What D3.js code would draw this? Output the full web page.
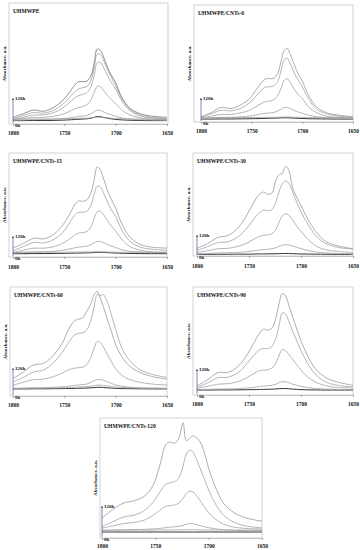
<!DOCTYPE html>
<html>
<head>
<meta charset="utf-8">
<script src="https://cdn.jsdelivr.net/npm/d3@7"></script>
<style>
  body { margin: 0; background: #fff; }
  svg { display: block; }
  text { font-family: "Liberation Serif", "DejaVu Serif", serif; font-weight: bold; fill: #111; }
</style>
</head>
<body>
<div id="chart"></div>
<script>
// wavenumber grid (cm-1) shared by all spectra
var wavenumbers = [1800, 1790, 1780, 1770, 1760, 1752, 1746, 1740, 1736, 1732, 1728, 1724,
                   1721, 1718, 1715, 1712, 1708, 1704, 1700, 1694, 1686, 1676, 1665, 1650];
var tickValues = [1800, 1750, 1700, 1650];
var sampleNames = ["UHMWPE", "UHMWPE/CNTs-0", "UHMWPE/CNTs-15", "UHMWPE/CNTs-30",
                   "UHMWPE/CNTs-60", "UHMWPE/CNTs-90", "UHMWPE/CNTs-120"];

// absorbance (a.u.), first series = 0h, last = 120h
var specUHMWPE = [
  [0.028,0.028,0.029,0.029,0.03,0.032,0.034,0.037,0.039,0.041,0.043,0.048,0.055,0.062,0.06,0.055,0.048,0.042,0.038,0.034,0.031,0.029,0.028,0.028],
  [0.04,0.04,0.041,0.041,0.042,0.043,0.044,0.045,0.046,0.047,0.048,0.05,0.053,0.056,0.055,0.053,0.05,0.048,0.046,0.044,0.042,0.041,0.04,0.04],
  [0.03,0.033,0.036,0.037,0.04,0.045,0.05,0.057,0.06,0.065,0.07,0.085,0.10,0.115,0.112,0.10,0.085,0.075,0.065,0.05,0.04,0.035,0.033,0.03],
  [0.035,0.045,0.055,0.055,0.065,0.08,0.10,0.125,0.135,0.145,0.16,0.20,0.26,0.31,0.31,0.28,0.235,0.20,0.17,0.115,0.075,0.05,0.04,0.035],
  [0.04,0.055,0.075,0.075,0.095,0.13,0.17,0.215,0.235,0.245,0.26,0.31,0.40,0.505,0.51,0.47,0.40,0.34,0.29,0.19,0.11,0.065,0.05,0.04],
  [0.045,0.07,0.095,0.09,0.115,0.16,0.21,0.265,0.29,0.30,0.31,0.36,0.46,0.575,0.575,0.53,0.45,0.38,0.32,0.21,0.12,0.075,0.055,0.045],
  [0.055,0.085,0.115,0.105,0.14,0.19,0.25,0.32,0.35,0.35,0.355,0.40,0.50,0.62,0.61,0.56,0.47,0.40,0.34,0.22,0.13,0.085,0.065,0.055]
];
var specCNT0 = [
  [0.025,0.025,0.026,0.026,0.027,0.028,0.029,0.03,0.031,0.032,0.033,0.034,0.035,0.036,0.036,0.035,0.033,0.031,0.03,0.028,0.027,0.026,0.025,0.025],
  [0.037,0.037,0.037,0.038,0.038,0.038,0.039,0.039,0.04,0.04,0.04,0.041,0.042,0.043,0.043,0.042,0.041,0.04,0.039,0.038,0.038,0.037,0.037,0.037],
  [0.03,0.035,0.04,0.04,0.045,0.05,0.06,0.07,0.075,0.078,0.082,0.095,0.11,0.122,0.125,0.115,0.098,0.085,0.075,0.058,0.045,0.038,0.034,0.03],
  [0.035,0.05,0.065,0.065,0.08,0.10,0.13,0.16,0.175,0.18,0.19,0.23,0.29,0.355,0.37,0.34,0.28,0.235,0.20,0.13,0.08,0.05,0.04,0.035],
  [0.04,0.07,0.10,0.095,0.12,0.165,0.22,0.275,0.30,0.30,0.31,0.35,0.44,0.53,0.545,0.50,0.42,0.355,0.30,0.20,0.11,0.07,0.05,0.04],
  [0.045,0.08,0.125,0.115,0.15,0.20,0.27,0.34,0.37,0.37,0.375,0.42,0.52,0.61,0.63,0.58,0.49,0.41,0.35,0.23,0.13,0.08,0.06,0.045]
];
var specCNT15 = [
  [0.032,0.032,0.033,0.033,0.034,0.035,0.036,0.037,0.038,0.039,0.04,0.041,0.043,0.045,0.045,0.044,0.042,0.04,0.038,0.036,0.034,0.033,0.032,0.032],
  [0.045,0.045,0.045,0.046,0.046,0.046,0.047,0.047,0.047,0.048,0.048,0.048,0.049,0.05,0.05,0.049,0.048,0.047,0.047,0.046,0.046,0.045,0.045,0.045],
  [0.04,0.045,0.05,0.05,0.055,0.065,0.075,0.088,0.095,0.10,0.105,0.12,0.138,0.15,0.148,0.138,0.12,0.105,0.09,0.07,0.055,0.048,0.045,0.042],
  [0.045,0.065,0.085,0.085,0.10,0.13,0.165,0.21,0.23,0.235,0.245,0.29,0.37,0.435,0.44,0.41,0.35,0.295,0.25,0.17,0.10,0.065,0.05,0.045],
  [0.06,0.10,0.14,0.135,0.17,0.23,0.31,0.40,0.43,0.43,0.44,0.50,0.60,0.68,0.675,0.62,0.53,0.45,0.39,0.26,0.15,0.095,0.075,0.065],
  [0.087,0.13,0.18,0.175,0.22,0.30,0.39,0.50,0.54,0.535,0.55,0.62,0.74,0.865,0.84,0.76,0.64,0.55,0.47,0.32,0.19,0.12,0.095,0.085]
];
var specCNT30 = [
  [0.016,0.016,0.017,0.017,0.018,0.018,0.019,0.02,0.02,0.021,0.021,0.022,0.023,0.024,0.025,0.024,0.023,0.021,0.02,0.019,0.018,0.017,0.016,0.016],
  [0.02,0.025,0.03,0.032,0.036,0.042,0.05,0.058,0.062,0.065,0.07,0.08,0.095,0.105,0.11,0.108,0.097,0.085,0.072,0.055,0.04,0.03,0.025,0.022],
  [0.035,0.05,0.07,0.075,0.095,0.125,0.16,0.19,0.20,0.205,0.215,0.26,0.33,0.39,0.41,0.40,0.35,0.29,0.24,0.17,0.10,0.06,0.045,0.035],
  [0.055,0.09,0.13,0.14,0.19,0.27,0.35,0.42,0.445,0.44,0.45,0.53,0.63,0.70,0.73,0.71,0.62,0.52,0.43,0.32,0.20,0.12,0.085,0.065],
  [0.074,0.12,0.18,0.20,0.28,0.40,0.51,0.60,0.62,0.60,0.61,0.74,0.79,0.80,0.87,0.84,0.66,0.57,0.49,0.37,0.24,0.14,0.10,0.07]
];
var specCNT60 = [
  [0.065,0.065,0.066,0.066,0.067,0.068,0.069,0.07,0.071,0.072,0.073,0.075,0.077,0.08,0.08,0.078,0.075,0.072,0.07,0.068,0.067,0.066,0.065,0.065],
  [0.07,0.071,0.072,0.072,0.073,0.075,0.077,0.08,0.082,0.084,0.086,0.09,0.095,0.10,0.10,0.097,0.092,0.087,0.082,0.078,0.075,0.073,0.072,0.07],
  [0.07,0.072,0.075,0.076,0.08,0.085,0.09,0.097,0.10,0.105,0.11,0.125,0.14,0.15,0.15,0.145,0.13,0.115,0.10,0.09,0.08,0.075,0.072,0.07],
  [0.10,0.125,0.15,0.155,0.18,0.21,0.24,0.255,0.26,0.265,0.29,0.36,0.44,0.50,0.49,0.45,0.38,0.31,0.25,0.19,0.15,0.125,0.11,0.10],
  [0.13,0.17,0.22,0.24,0.31,0.40,0.49,0.56,0.575,0.58,0.61,0.70,0.82,0.93,0.92,0.93,0.86,0.74,0.61,0.44,0.32,0.24,0.20,0.17],
  [0.16,0.22,0.285,0.30,0.38,0.485,0.61,0.69,0.705,0.72,0.78,0.85,0.93,0.96,0.90,0.82,0.70,0.59,0.47,0.36,0.27,0.215,0.18,0.155]
];
var specCNT90 = [
  [0.046,0.046,0.047,0.047,0.048,0.049,0.05,0.051,0.052,0.053,0.054,0.056,0.058,0.06,0.06,0.058,0.055,0.052,0.05,0.048,0.047,0.046,0.046,0.046],
  [0.05,0.052,0.055,0.056,0.06,0.065,0.07,0.078,0.082,0.086,0.09,0.10,0.115,0.124,0.122,0.115,0.10,0.09,0.08,0.07,0.06,0.055,0.052,0.05],
  [0.06,0.08,0.10,0.105,0.125,0.16,0.195,0.225,0.23,0.235,0.25,0.30,0.37,0.42,0.41,0.38,0.33,0.28,0.23,0.17,0.12,0.085,0.07,0.065],
  [0.07,0.11,0.16,0.165,0.21,0.29,0.36,0.42,0.43,0.43,0.45,0.53,0.65,0.76,0.75,0.69,0.59,0.50,0.41,0.30,0.19,0.12,0.09,0.075],
  [0.084,0.14,0.207,0.21,0.27,0.37,0.47,0.57,0.61,0.60,0.62,0.72,0.85,0.94,0.92,0.84,0.72,0.61,0.50,0.37,0.24,0.16,0.12,0.09]
];
var specCNT120 = [
  [0.05,0.05,0.05,0.05,0.05,0.05,0.05,0.05,0.05,0.05,0.05,0.05,0.05,0.05,0.05,0.05,0.05,0.05,0.05,0.05,0.05,0.05,0.05,0.05],
  [0.065,0.065,0.066,0.066,0.066,0.066,0.067,0.067,0.067,0.068,0.068,0.068,0.069,0.07,0.07,0.069,0.068,0.067,0.067,0.066,0.066,0.065,0.065,0.065],
  [0.064,0.066,0.068,0.07,0.072,0.076,0.08,0.086,0.09,0.093,0.097,0.105,0.114,0.12,0.119,0.113,0.103,0.094,0.086,0.077,0.07,0.066,0.064,0.063],
  [0.083,0.10,0.12,0.13,0.15,0.19,0.23,0.265,0.27,0.275,0.29,0.33,0.37,0.39,0.385,0.36,0.31,0.26,0.21,0.16,0.115,0.09,0.08,0.075],
  [0.097,0.135,0.175,0.19,0.23,0.30,0.38,0.45,0.46,0.47,0.50,0.60,0.70,0.73,0.72,0.67,0.58,0.49,0.40,0.29,0.19,0.13,0.10,0.085],
  [0.167,0.236,0.29,0.31,0.35,0.44,0.60,0.78,0.80,0.79,0.83,0.96,0.81,0.83,0.85,0.84,0.80,0.71,0.58,0.43,0.29,0.21,0.167,0.14]
];

// panel frames in page pixels
var panels = [
  { spec: specUHMWPE, l: 9,   t: 3,   r: 168, b: 124, axL: 13,  axR: 167, tickY: 133, arrowTop: 97 },
  { spec: specCNT0,   l: 194, t: 5,   r: 353, b: 122, axL: 201, axR: 353, tickY: 131, arrowTop: 97 },
  { spec: specCNT15,  l: 9,   t: 153, r: 167, b: 257, axL: 13,  axR: 167, tickY: 267, arrowTop: 235 },
  { spec: specCNT30,  l: 193, t: 153, r: 353, b: 256, axL: 197, axR: 353, tickY: 266, arrowTop: 234 },
  { spec: specCNT60,  l: 10,  t: 287, r: 167, b: 396, axL: 13,  axR: 167, tickY: 405, arrowTop: 367 },
  { spec: specCNT90,  l: 193, t: 287, r: 353, b: 395, axL: 197, axR: 353, tickY: 404, arrowTop: 368 },
  { spec: specCNT120, l: 100, t: 418, r: 262, b: 538, axL: 102, axR: 262, tickY: 546, arrowTop: 505 }
];

var svg = d3.select("#chart").append("svg")
    .attr("width", 360)
    .attr("height", 550);

svg.append("defs").append("marker")
    .attr("id", "arrowhead")
    .attr("viewBox", "0 0 6 6")
    .attr("refX", 3).attr("refY", 3)
    .attr("markerWidth", 4).attr("markerHeight", 4)
    .attr("orient", "auto")
  .append("path")
    .attr("d", "M0,0 L6,3 L0,6 Z")
    .attr("fill", "#3d5f8f");

panels.forEach(function(p, i) {
    var g = svg.append("g");

    var x = d3.scaleLinear().domain([1800, 1650]).range([p.axL, p.axR]);
    var y = d3.scaleLinear().domain([0, 1]).range([p.b, p.t]);

    // frame
    g.append("rect")
        .attr("x", p.l).attr("y", p.t)
        .attr("width", p.r - p.l).attr("height", p.b - p.t)
        .attr("fill", "none")
        .attr("stroke", "#c8c8c8")
        .attr("stroke-width", 0.8);

    // x axis
    var xAxis = d3.axisBottom(x).tickValues(tickValues).tickSize(2).tickSizeOuter(0).tickFormat(d3.format("d"));
    var ax = g.append("g")
        .attr("transform", "translate(0," + p.b + ")")
        .call(xAxis);
    ax.select(".domain").attr("stroke", "#aaa").attr("stroke-width", 0.6);
    ax.selectAll(".tick line").attr("stroke", "#777").attr("stroke-width", 0.6);
    ax.selectAll(".tick text")
        .attr("y", p.tickY - p.b)
        .attr("dy", "0.35em")
        .style("font-family", "'Liberation Serif', serif")
        .style("font-weight", "bold")
        .style("font-size", "5.5px")
        .attr("fill", "#111");

    // spectra
    var line = d3.line()
        .x(function(d, k) { return x(wavenumbers[k]); })
        .y(function(d) { return y(d); })
        .curve(d3.curveCatmullRom.alpha(0.5));

    var n = p.spec.length;
    g.selectAll("path.spec")
        .data(p.spec)
        .join("path")
        .attr("class", "spec")
        .attr("d", line)
        .attr("fill", "none")
        .attr("stroke", function(d, k) {
            if (k === 0) return "#333";
            if (k === n - 1) return i === 0 ? "#777" : "#999";
            return "#a2a2a2";
        })
        .attr("stroke-width", function(d, k) { return k === 0 ? 1.0 : 0.8; });

    // time arrow 0h -> 120h
    g.append("line")
        .attr("x1", p.axL).attr("x2", p.axL)
        .attr("y1", p.b - 1).attr("y2", p.arrowTop + 2)
        .attr("stroke", "#3d5f8f")
        .attr("stroke-width", 0.7)
        .attr("marker-end", "url(#arrowhead)");

    g.append("text")
        .attr("x", p.axL + 2).attr("y", p.arrowTop + 3)
        .style("font-size", "5px")
        .text("120h");
    g.append("text")
        .attr("x", p.axL + 2).attr("y", p.b + 3)
        .style("font-size", "5px")
        .text("0h");

    // sample title
    g.append("text")
        .attr("x", p.l + 4).attr("y", p.t + 10)
        .style("font-size", "5.6px")
        .text(sampleNames[i]);

    // y label
    var cy = p.t + (p.b - p.t) * 0.5;
    g.append("text")
        .attr("transform", "translate(" + (p.l - 3) + "," + cy + ") rotate(-90)")
        .attr("text-anchor", "middle")
        .style("font-size", "5px")
        .text("Absorbance, a.u.");
});
</script>
</body>
</html>
